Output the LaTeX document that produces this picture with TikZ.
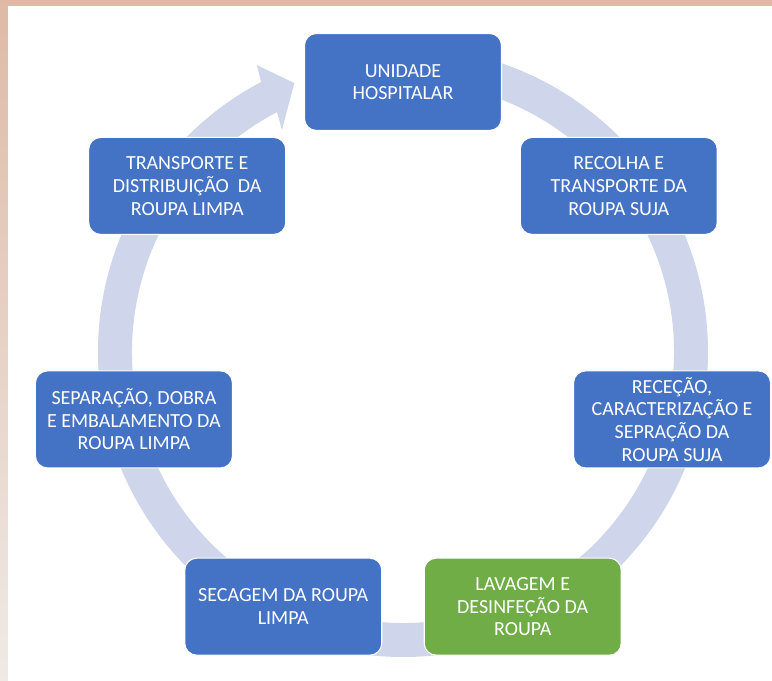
\documentclass[tikz,border=0pt]{standalone}
\usepackage{fontspec}
\setmainfont{Carlito}
\usepackage{xcolor}
\definecolor{stagec}{RGB}{68,114,196}
\definecolor{washc}{RGB}{112,173,71}
\definecolor{ringc}{RGB}{207,213,234}
\definecolor{framec}{RGB}{222,186,166}
\definecolor{framelowc}{RGB}{239,234,230}
\tikzset{
  stage/.style={draw=white, line width=0.8pt, fill=stagec, rounded corners=9pt, align=center,
    minimum width=147.75pt, minimum height=72.75pt, inner sep=3pt, text=white,
    font=\fontsize{15}{17}\selectfont},
  wash/.style={stage, fill=washc},
  ring/.style={fill=ringc}
}

\begin{document}
\begin{tikzpicture}
  % ---- frame ----
  \shade[top color=framec, bottom color=framelowc] (-302.25pt,-244.5pt) rectangle (276.75pt,266.25pt);
  \fill[white] (-296.25pt,-244.5pt) rectangle (276.75pt,261.75pt);
  \useasboundingbox (-302.25pt,-244.5pt) rectangle (276.75pt,266.25pt);

  % ---- ring arrow ----
  \begin{scope}[shift={(0,2.25pt)}]
    \fill[ring] (90:228.75pt) arc[start angle=90, end angle=-242.3, radius=228.75pt]
      -- (-243:241.5pt) -- (-248:217.5pt) -- (-241.4:189.75pt) -- (-242.3:203.25pt)
      arc[start angle=-242.3, end angle=90, radius=203.25pt] -- cycle;
  \end{scope}

  % ---- stages ----
  \begin{scope}[shift={(0,-2.25pt)}]
    \node[stage] (unidade) at (90:207pt) {UNIDADE\\HOSPITALAR};
    \node[stage] (recolha) at (38.57:207pt) {RECOLHA E\\TRANSPORTE DA\\ROUPA SUJA};
    \node[stage] (rececao) at (-12.86:207pt) {RECEÇÃO,\\CARACTERIZAÇÃO E\\SEPRAÇÃO DA\\ROUPA SUJA};
    \node[wash] (lavagem) at (-64.29:207pt) {LAVAGEM E\\DESINFEÇÃO DA\\ROUPA};
    \node[stage] (secagem) at (-115.71:207pt) {SECAGEM DA ROUPA\\LIMPA};
    \node[stage] (separacao) at (-167.14:207pt) {SEPARAÇÃO, DOBRA\\E EMBALAMENTO DA\\ROUPA LIMPA};
    \node[stage] (transporte) at (141.43:207pt) {TRANSPORTE E\\DISTRIBUIÇÃO~ DA\\ROUPA LIMPA};
  \end{scope}
\end{tikzpicture}
\end{document}
